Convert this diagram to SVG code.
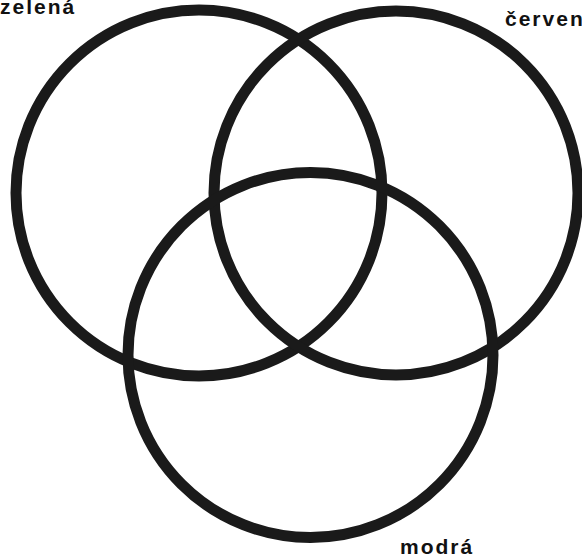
<svg xmlns="http://www.w3.org/2000/svg" width="582" height="558" viewBox="0 0 582 558">
<style>
.ring{fill:none;stroke:#1a1a1a;stroke-width:11}
.lbl{font-family:"Liberation Sans",Arial,sans-serif;font-weight:bold;font-size:21px;fill:#111;letter-spacing:2px}
</style>
<rect width="582" height="558" fill="#fff"/>
<g id="zelena"><circle class="ring" cx="199" cy="193" r="183"/><text class="lbl" x="0" y="14">zelená</text></g>
<g id="cervena"><circle class="ring" cx="396" cy="193" r="182"/><text class="lbl" x="505" y="26">červená</text></g>
<g id="modra"><circle class="ring" cx="310.5" cy="355" r="182.5"/><text class="lbl" x="400" y="554">modrá</text></g>
<g id="connectors"></g>
</svg>
